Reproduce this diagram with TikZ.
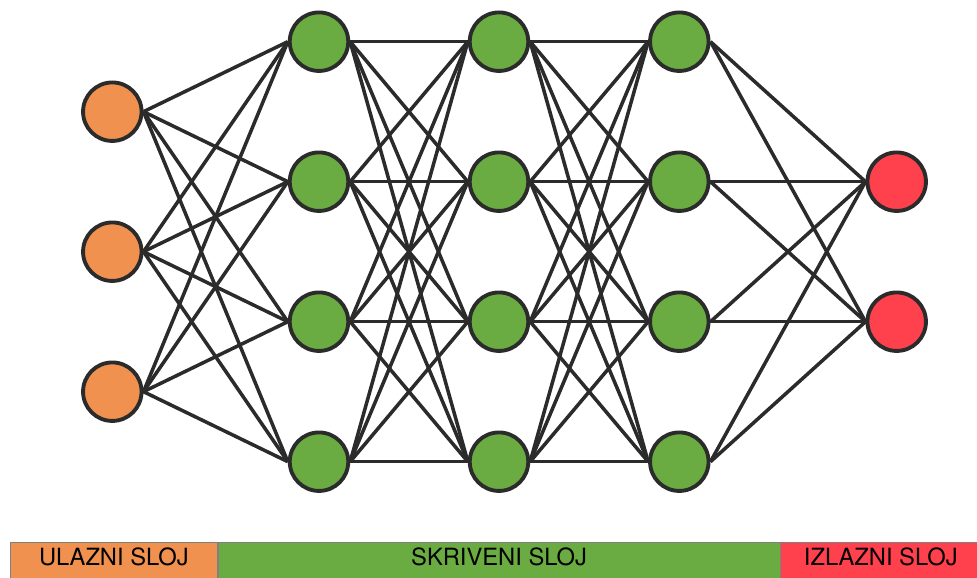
\documentclass[tikz,border=0pt]{standalone}
\usepackage{fontspec}
\setmainfont{TeX Gyre Heros}
\usepackage{tikz}

\definecolor{ulazcol}{RGB}{240,145,80}
\definecolor{skrivcol}{RGB}{106,172,66}
\definecolor{izlazcol}{RGB}{255,64,77}
\definecolor{rubcol}{RGB}{43,43,43}

\tikzset{veza/.style={draw=rubcol, line width=2pt}}

\begin{document}
\begin{tikzpicture}
        \useasboundingbox (0,0) rectangle (19.54,11.56);
        \begin{scope}[every node/.style={draw=rubcol, line width=2.2pt, circle, minimum size=1.17cm, inner sep=0}]
                \node[fill=ulazcol] (I1) at (2.246,9.326) {};
                \node[fill=ulazcol] (I2) at (2.246,6.526) {};
                \node[fill=ulazcol] (I3) at (2.246,3.726) {};

                \node[fill=skrivcol] (A1) at (6.38,10.726) {};
                \node[fill=skrivcol] (A2) at (6.38,7.926) {};
                \node[fill=skrivcol] (A3) at (6.38,5.126) {};
                \node[fill=skrivcol] (A4) at (6.38,2.326) {};

                \node[fill=skrivcol] (B1) at (9.98,10.726) {};
                \node[fill=skrivcol] (B2) at (9.98,7.926) {};
                \node[fill=skrivcol] (B3) at (9.98,5.126) {};
                \node[fill=skrivcol] (B4) at (9.98,2.326) {};

                \node[fill=skrivcol] (C1) at (13.586,10.726) {};
                \node[fill=skrivcol] (C2) at (13.586,7.926) {};
                \node[fill=skrivcol] (C3) at (13.586,5.126) {};
                \node[fill=skrivcol] (C4) at (13.586,2.326) {};

                \node[fill=izlazcol] (O1) at (17.934,7.926) {};
                \node[fill=izlazcol] (O2) at (17.934,5.126) {};
        \end{scope}
        % veze medju slojevima
        \foreach \i in {1,2,3}
                \foreach \j in {1,...,4}
                        \draw[veza] (I\i.east) -- (A\j.west);
        \foreach \i in {1,...,4}
                \foreach \j in {1,...,4} {
                        \draw[veza] (A\i.east) -- (B\j.west);
                        \draw[veza] (B\i.east) -- (C\j.west);
                }
        \foreach \i in {1,...,4}
                \foreach \j in {1,2}
                        \draw[veza] (C\i.east) -- (O\j.west);
        % traka s nazivima slojeva
        \begin{scope}[every node/.style={draw=gray, thin, minimum height=1cm, inner sep=0, anchor=north west, font=\fontsize{13.5}{16}\selectfont, text height=0.32cm, text depth=0.38cm}]
                \node[fill=ulazcol, minimum width=4.14cm] (U) at (0.2,0.72) {ULAZNI SLOJ};
                \node[fill=skrivcol, minimum width=11.24cm] (S) at (U.north east) {SKRIVENI SLOJ};
                \node[fill=izlazcol, minimum width=4cm] (Z) at (S.north east) {IZLAZNI SLOJ};
        \end{scope}
\end{tikzpicture}
\end{document}
